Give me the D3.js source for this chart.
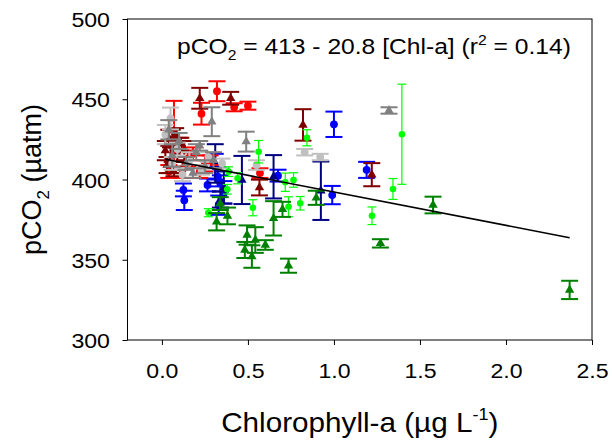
<!DOCTYPE html>
<html>
<head>
<meta charset="utf-8">
<script src="https://cdn.jsdelivr.net/npm/d3@7"></script>
<style>
  body { margin: 0; background: #fff; }
  text { font-family: Arial, "Liberation Sans", sans-serif; fill: #000; }
</style>
</head>
<body>
<svg id="chart" width="612" height="444"></svg>
<script>
// each point: [chlorophyll-a, pCO2, error]
var redCircles = [
  [0.23, 441, 6.8], [0.32, 455, 6.2], [0.42, 445, 2.5], [0.50, 446, 2.5], [0.57, 404, 3],
  [0.07, 430, 19], [0.15, 413, 5], [0.12, 406, 5], [0.25, 410, 5], [0.22, 405, 4],
  [0.04, 405, 4], [0.28, 412, 3], [0.10, 420, 6], [0.18, 416, 4]
];
var darkRedTriangles = [
  [0.22, 450.6, 6.5], [0.40, 450.6, 4], [0.82, 434, 9.8], [0.567, 395, 4.9], [1.22, 403, 7.2],
  [0.02, 418, 6], [0.04, 426, 5], [0.05, 412, 8], [0.06, 421, 10], [0.08, 428, 4],
  [0.09, 416, 5], [0.03, 409, 5], [0.11, 422, 4], [0.07, 405, 3], [0.13, 418, 6]
];
var grayTriangles = [
  [0.29, 436, 9], [1.32, 443, 2], [0.49, 423.6, 6.2],
  [0.04, 431, 6], [0.10, 424, 5], [0.14, 410, 4], [0.20, 417, 5], [0.25, 408, 4],
  [0.06, 415, 7], [0.18, 404, 3], [0.30, 412, 5], [0.22, 421, 3]
];
var lightGrayCircles = [
  [0.05, 438, 6.8], [0.83, 417, 2], [0.92, 414, 2], [0.55, 409, 3],
  [0.02, 428, 6], [0.09, 419, 4], [0.16, 412, 5], [0.23, 406, 3], [0.27, 414, 3],
  [0.35, 410, 3], [0.12, 403, 4], [0.06, 410, 4]
];
var blueCircles = [
  [1.00, 434.4, 7.9], [1.19, 406, 5], [0.99, 390.3, 5.7], [0.675, 402.4, 3.7],
  [0.125, 393.5, 4], [0.13, 387, 6], [0.265, 396.6, 4], [0.31, 408, 8],
  [0.325, 401.7, 6], [0.34, 397.6, 5], [0.36, 392, 7], [0.33, 384, 6]
];
var navyTriangles = [
  [0.924, 393, 18.2], [0.649, 401.7, 13.5], [0.465, 399.7, 15],
  [0.34, 387.5, 5], [0.31, 410, 12], [0.36, 395, 10]
];
var limeCircles = [
  [1.395, 428.2, 31.2], [1.343, 394.1, 6.5], [1.221, 377.4, 5.5], [0.843, 426, 5],
  [0.562, 417.3, 7], [0.717, 398.3, 5.7], [0.765, 399.7, 4.5], [0.804, 385.2, 4.2],
  [0.736, 383, 6.2], [0.529, 382.4, 5], [0.27, 379.3, 2.5], [0.38, 393.9, 3],
  [0.44, 400.8, 3.5], [0.387, 404.9, 3]
];
var greenTriangles = [
  [2.37, 331.2, 5.7], [1.576, 384.1, 5.2], [1.27, 360.2, 2.6], [0.897, 388.6, 4.4],
  [0.736, 346.3, 4.4], [0.649, 375.8, 10.7], [0.701, 381.4, 4.7], [0.495, 365.4, 6],
  [0.543, 362.3, 8], [0.601, 359.2, 3], [0.482, 356.1, 5], [0.523, 352, 7],
  [0.318, 373.7, 5.4], [0.381, 377.3, 5.2], [0.339, 385, 4]
];

// regression pCO2 = 413 - 20.8 [Chl-a]
var fitIntercept = 413, fitSlope = -20.8;
var fitRange = [0.02, 2.37];

var xTicks = [0, 0.5, 1.0, 1.5, 2.0, 2.5];
var yTicks = [300, 350, 400, 450, 500];

var series = [
  { data: blueCircles, color: "#0000ff", shape: "circle" },
  { data: navyTriangles, color: "#000080", shape: "triangle" },
  { data: redCircles, color: "#ff0000", shape: "circle" },
  { data: darkRedTriangles, color: "#800000", shape: "triangle" },
  { data: lightGrayCircles, color: "#c0c0c0", shape: "circle" },
  { data: grayTriangles, color: "#808080", shape: "triangle" },
  { data: limeCircles, color: "#00ff00", shape: "circle", thin: true },
  { data: greenTriangles, color: "#008000", shape: "triangle" }
];

var svg = d3.select("#chart");
var pLeft = 127.5, pRight = 592, pTop = 19, pBottom = 340;
var fontFam = "Arial, 'Liberation Sans', sans-serif";

var x = d3.scaleLinear().domain([-0.2, 2.5]).range([pLeft, pRight]);
var y = d3.scaleLinear().domain([300, 500]).range([pBottom, pTop]);

// axes
var xAxis = svg.append("g")
  .attr("transform", "translate(0," + pBottom + ")")
  .call(d3.axisBottom(x).tickValues(xTicks).tickFormat(d3.format(".1f")).tickSize(5).tickSizeOuter(0));
xAxis.select(".domain").remove();
xAxis.selectAll("text")
  .attr("dy", null).attr("y", 38)
  .attr("transform", "scale(1.1,1)")
  .style("font-size", "21px").style("font-family", fontFam);

var yAxis = svg.append("g")
  .attr("transform", "translate(" + pLeft + ",0)")
  .call(d3.axisLeft(y).tickValues(yTicks).tickSize(5).tickSizeOuter(0));
yAxis.select(".domain").remove();
yAxis.selectAll("text")
  .attr("x", -16).attr("dy", "0.36em")
  .attr("transform", "scale(1.1,1)")
  .style("font-size", "21px").style("font-family", fontFam);

svg.append("rect")
  .attr("x", pLeft).attr("y", pTop)
  .attr("width", pRight - pLeft).attr("height", pBottom - pTop)
  .attr("fill", "none").attr("stroke", "#000").attr("stroke-width", 1);

// error bars + markers
var plot = svg.append("g");
var tri = d3.symbol().type(d3.symbolTriangle).size(38);

series.forEach(function(s) {
  var cap = s.thin ? 4.5 : 8.5;
  var sw = s.thin ? 1.2 : 2;
  var g = plot.append("g");
  var pts = g.selectAll("g").data(s.data).enter().append("g");
  pts.append("line")
    .attr("x1", function(d) { return x(d[0]); }).attr("x2", function(d) { return x(d[0]); })
    .attr("y1", function(d) { return y(d[1] - d[2]); }).attr("y2", function(d) { return y(d[1] + d[2]); })
    .attr("stroke", s.color).attr("stroke-width", sw);
  pts.append("line")
    .attr("x1", function(d) { return x(d[0]) - cap; }).attr("x2", function(d) { return x(d[0]) + cap; })
    .attr("y1", function(d) { return y(d[1] + d[2]); }).attr("y2", function(d) { return y(d[1] + d[2]); })
    .attr("stroke", s.color).attr("stroke-width", sw);
  pts.append("line")
    .attr("x1", function(d) { return x(d[0]) - cap; }).attr("x2", function(d) { return x(d[0]) + cap; })
    .attr("y1", function(d) { return y(d[1] - d[2]); }).attr("y2", function(d) { return y(d[1] - d[2]); })
    .attr("stroke", s.color).attr("stroke-width", sw);
  if (s.shape === "circle") {
    pts.append("circle")
      .attr("cx", function(d) { return x(d[0]); })
      .attr("cy", function(d) { return y(d[1]); })
      .attr("r", s.thin ? 3.3 : 3.9)
      .attr("fill", s.color);
  } else {
    pts.append("path")
      .attr("d", tri)
      .attr("transform", function(d) { return "translate(" + x(d[0]) + "," + y(d[1]) + ")"; })
      .attr("fill", s.color);
  }
});

// regression line
svg.append("line")
  .attr("x1", x(fitRange[0])).attr("y1", y(fitIntercept + fitSlope * fitRange[0]))
  .attr("x2", x(fitRange[1])).attr("y2", y(fitIntercept + fitSlope * fitRange[1]))
  .attr("stroke", "#000").attr("stroke-width", 1.6);

// equation
var eq = svg.append("text")
  .attr("transform", "translate(177,54) scale(1.12,1)")
  .style("font-size", "22px");
eq.append("tspan").text("pCO");
eq.append("tspan").attr("dy", 6).style("font-size", "14px").text("2");
eq.append("tspan").attr("dy", -6).text(" = 413 - 20.8 [Chl-a] (r");
eq.append("tspan").attr("dy", -9).style("font-size", "14px").text("2");
eq.append("tspan").attr("dy", 9).text(" = 0.14)");

// axis titles
var xt = svg.append("text")
  .attr("transform", "translate(" + (pLeft + pRight) / 2 + ",432) scale(1.06,1)")
  .attr("text-anchor", "middle").style("font-size", "28px");
xt.append("tspan").text("Chlorophyll-a (\u00b5g L");
xt.append("tspan").attr("dy", -12).style("font-size", "17px").text("-1");
xt.append("tspan").attr("dy", 12).text(")");

var yt = svg.append("text")
  .attr("transform", "translate(41," + (pTop + pBottom) / 2 + ") rotate(-90)")
  .attr("text-anchor", "middle").style("font-size", "27px");
yt.append("tspan").text("pCO");
yt.append("tspan").attr("dy", 8).style("font-size", "17px").text("2");
yt.append("tspan").attr("dy", -8).text(" (\u00b5atm)");
</script>
</body>
</html>
